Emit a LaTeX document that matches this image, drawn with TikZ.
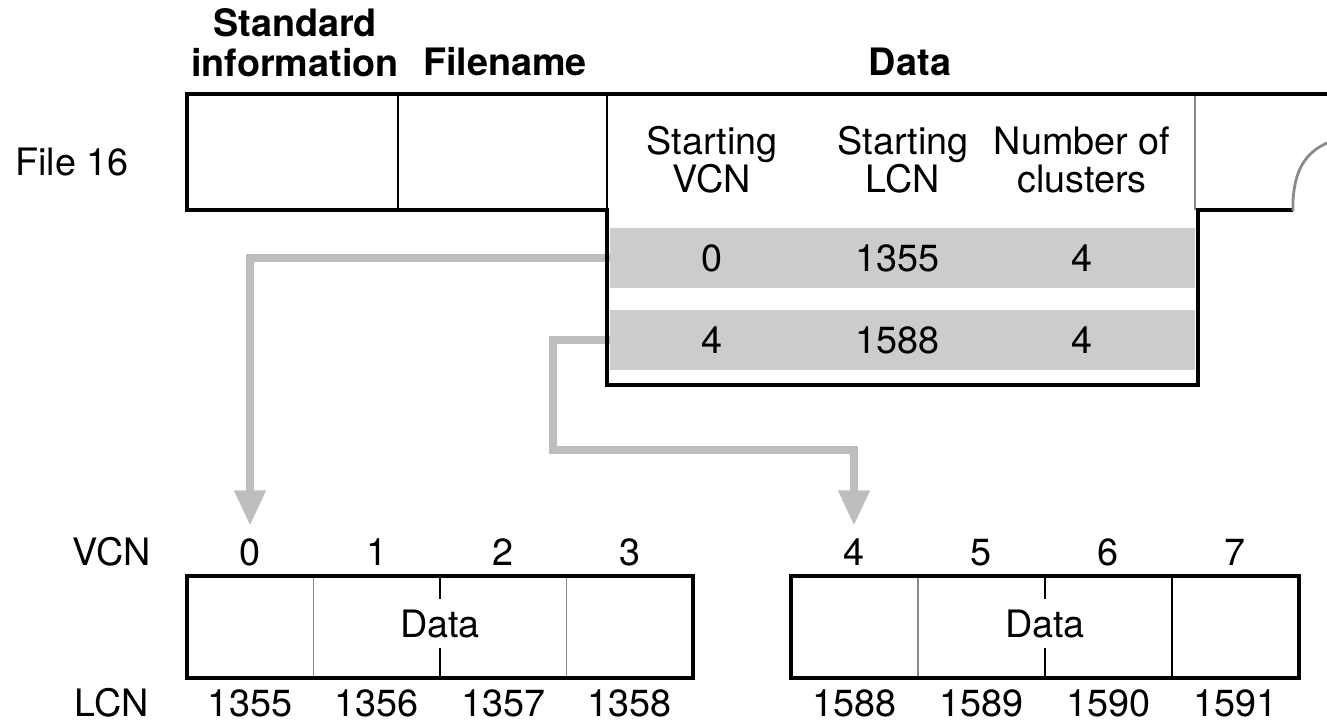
\documentclass[tikz,border=0pt]{standalone}
\usepackage{fontspec}
\setmainfont{TeX Gyre Heros}
\usetikzlibrary{arrows.meta,positioning}
\definecolor{mapgray}{HTML}{BEBEBE}
\definecolor{rungray}{HTML}{CCCCCC}
\definecolor{divgray}{HTML}{8A8A8A}
\tikzset{
  labeltext/.style={font=\fontsize{21.5}{22}\selectfont,inner sep=0pt},
  headtext/.style={font=\fontsize{21.5}{22.5}\selectfont\bfseries,inner sep=0pt,align=center},
  coltext/.style={font=\fontsize{21.5}{21.5}\selectfont,inner sep=0pt,align=center},
  runrow/.style={fill=rungray,draw=none,inner sep=0pt,
                 minimum width=11.7cm,minimum height=1.2cm},
  recordline/.style={line width=2.8pt,line join=miter},
  thinline/.style={line width=1pt},
  grayline/.style={line width=1.1pt,draw=divgray},
  maparrow/.style={-{Triangle[length=20pt,width=17pt]},line width=4.5pt,
                   draw=mapgray,shorten >=7pt},
}
\begin{document}
\begin{tikzpicture}[x=0.02cm,y=-0.02cm]
  \useasboundingbox (0,0) rectangle (1327,726);
  % record headers
  \node[headtext,anchor=south] (stdinfo) at (295,77) {Standard\\information};
  \node[headtext,anchor=base] (fname) at (505,76) {Filename};
  \node[headtext,anchor=base] (dhead) at (910,76) {Data};
  \node[labeltext,anchor=base] (file16) at (72,175) {File 16};
  % runs
  \node[runrow] (run0) at (902.5,258) {};
  \node[runrow] (run1) at (902.5,340) {};
  \node[coltext] (svcn) at (712,160) {Starting\\VCN};
  \node[coltext] (slcn) at (903,160) {Starting\\LCN};
  \node[coltext] (ncl) at (1082,160) {Number of\\clusters};
  \node[labeltext] (r0v) at (712,258) {0};
  \node[labeltext] (r0l) at (897,258) {1355};
  \node[labeltext] (r0n) at (1082,258) {4};
  \node[labeltext] (r1v) at (712,340) {4};
  \node[labeltext] (r1l) at (897,340) {1588};
  \node[labeltext] (r1n) at (1082,340) {4};
  % clusters
  \node[labeltext,anchor=base] (vcnlab) at (112,565) {VCN};
  \node[labeltext,anchor=base] (lcnlab) at (112,716) {LCN};
  \foreach \v/\l [count=\i from 0] in {0/1355,1/1356,2/1357,3/1358}{
    \node[labeltext,anchor=base] (vcn\v) at ({250+126.5*\i},565) {\v};
    \node[labeltext,anchor=base] (lcn\v) at ({250+126.5*\i},716) {\l};
  }
  \foreach \v/\l [count=\i from 0] in {4/1588,5/1589,6/1590,7/1591}{
    \node[labeltext,anchor=base] (vcn\v) at ({854+127*\i},565) {\v};
    \node[labeltext,anchor=base] (lcn\v) at ({854+127*\i},716) {\l};
  }
  \node[labeltext,anchor=base,inner ysep=6pt] (data0) at (440,637) {Data};
  \node[labeltext,anchor=base,inner ysep=6pt] (data1) at (1045,637) {Data};
  % mapping arrows
  \coordinate (bend) at (553,450);
  \draw[maparrow] (run0.west) -| (vcn0.north);
  \draw[maparrow] (run1.west) -| (bend) -| (vcn4.north);
  % record outline
  \draw[thinline] (398,94) -- (398,210);
  \draw[thinline] (607,94) -- (607,210);
  \draw[grayline] (1195,94) -- (1195,210);
  \draw[recordline] (1327,94) -- (187,94) -- (187,210) -- (607,210) -- (607,385)
    -- (1198,385) -- (1198,210) -- (1293,210);
  \draw[grayline,line width=1.6pt] (1293,211) -- (1293,200)
    .. controls (1295,170) and (1305,153) .. (1327,143);
  % cluster boxes
  \draw[grayline] (313.5,576) -- (313.5,678);
  \draw[grayline] (566.5,576) -- (566.5,678);
  \draw[thinline] (440,576) -- (data0.north) (data0.south) -- (440,678);
  \draw[recordline] (187,576) rectangle (693,678);
  \draw[grayline] (918,576) -- (918,678);
  \draw[thinline] (1172,576) -- (1172,678);
  \draw[thinline] (1045,576) -- (data1.north) (data1.south) -- (1045,678);
  \draw[recordline] (791,576) rectangle (1299,678);
\end{tikzpicture}
\end{document}
